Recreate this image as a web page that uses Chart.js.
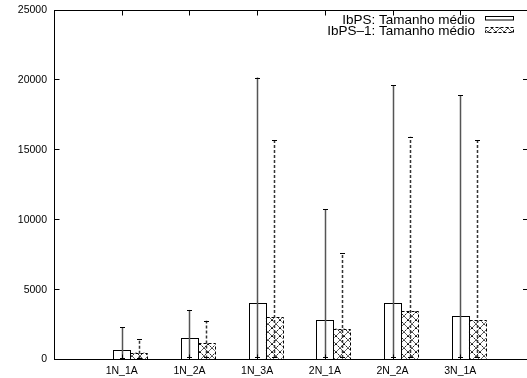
<!DOCTYPE html>
<html>
<head>
<meta charset="utf-8">
<script src="https://cdn.jsdelivr.net/npm/chart.js@4/dist/chart.umd.min.js"></script>
<style>
html,body{margin:0;padding:0;overflow:hidden;background:#fff;}
#wrap{position:relative;width:527px;height:378px;overflow:hidden;}
#c{position:absolute;left:0;top:0;}
</style>
</head>
<body>
<div id="wrap"><canvas id="c" width="532" height="378"></canvas></div>
<script>
// ---- data ----
const categories = ['1N_1A', '1N_2A', '1N_3A', '2N_1A', '2N_2A', '3N_1A'];
const seriesLabels = ['IbPS: Tamanho médio', 'IbPS\u20131: Tamanho médio'];
const meanIbPS  = [700, 1550, 4050, 2850, 4050, 3150];
const lowIbPS   = [50, 100, 100, 100, 100, 100];
const highIbPS  = [2320, 3550, 20200, 10750, 19650, 18950];
const meanIbPS1 = [480, 1150, 3050, 2200, 3450, 2800];
const lowIbPS1  = [50, 80, 100, 100, 100, 100];
const highIbPS1 = [1480, 2780, 15750, 7600, 15950, 15700];
const yTickValues = [0, 5000, 10000, 15000, 20000, 25000];

// ---- styling / layout constants ----
const FONT = "'Liberation Sans', Arial, Helvetica, sans-serif";
const SECOND_OFFSET = 0.25;   // second bar sits 1/4 unit right of category
const TICK_LEN = 5;

const canvas = document.getElementById('c');
const ctx0 = canvas.getContext('2d');

function makeHatch(ctx) {
  const t = document.createElement('canvas');
  t.width = 8; t.height = 8;
  const g = t.getContext('2d');
  g.fillStyle = '#fff';
  g.fillRect(0, 0, 8, 8);
  g.strokeStyle = '#111';
  g.lineWidth = 1;
  g.setLineDash([2, 1]);
  g.beginPath();
  g.moveTo(0, 0); g.lineTo(8, 8);
  g.moveTo(8, 0); g.lineTo(0, 8);
  g.stroke();
  return ctx.createPattern(t, 'repeat');
}
const hatch = makeHatch(ctx0);

const errorBarsPlugin = {
  id: 'errorBars',
  afterDatasetsDraw(chart) {
    const ctx = chart.ctx;
    const ys = chart.scales.y;
    chart.data.datasets.forEach((ds, di) => {
      const meta = chart.getDatasetMeta(di);
      meta.data.forEach((el, i) => {
        const p = el.getProps(['x', 'y', 'base', 'width'], true);
        const l = Math.round(p.x - p.width / 2) + 0.5;
        const r = Math.round(p.x + p.width / 2) + 0.5;
        const t = Math.round(p.y) + 0.5;
        const b = Math.round(p.base) - 0.5;
        ctx.save();
        ctx.strokeStyle = '#000';
        ctx.lineWidth = 1;
        ctx.setLineDash(ds.outlineDash || []);
        ctx.strokeRect(l, t, r - l, b - t);
        ctx.restore();
        const x = Math.round(p.x) + 0.5;
        const yl = ys.getPixelForValue(ds.errLow[i]);
        const yh = ys.getPixelForValue(ds.errHigh[i]);
        ctx.save();
        ctx.strokeStyle = ds.errColor;
        ctx.lineWidth = 1.5;
        ctx.setLineDash(ds.errDash || []);
        ctx.beginPath();
        ctx.moveTo(x, yl); ctx.lineTo(x, yh);
        ctx.stroke();
        ctx.setLineDash([]);
        ctx.strokeStyle = '#000';
        ctx.lineWidth = 1;
        ctx.beginPath();
        ctx.moveTo(x - 2.5, Math.round(yh) + 0.5); ctx.lineTo(x + 2.5, Math.round(yh) + 0.5);
        ctx.moveTo(x - 2.5, Math.round(yl) - 0.5); ctx.lineTo(x + 2.5, Math.round(yl) - 0.5);
        ctx.stroke();
        ctx.restore();
      });
    });
  }
};

const framePlugin = {
  id: 'frame',
  afterDraw(chart) {
    const ctx = chart.ctx;
    const a = chart.chartArea;
    const xs = chart.scales.x, ys = chart.scales.y;
    ctx.save();
    ctx.strokeStyle = '#000';
    ctx.lineWidth = 1;
    const L = Math.round(a.left) + 0.5, R = Math.round(a.right);
    const T = Math.round(a.top) - 0.5, B = Math.round(a.bottom) - 0.5;
    ctx.beginPath();
    // left, top and bottom border (right border falls outside the picture)
    ctx.moveTo(L, B); ctx.lineTo(L, T);
    ctx.moveTo(L - 0.5, T); ctx.lineTo(R, T);
    ctx.moveTo(L - 0.5, B); ctx.lineTo(R, B);
    yTickValues.forEach(v => {
      const y = Math.round(ys.getPixelForValue(v)) - 0.5;
      ctx.moveTo(L, y); ctx.lineTo(L + TICK_LEN, y);
      if (v > 0 && v < 25000) { ctx.moveTo(R, y); ctx.lineTo(R - TICK_LEN, y); }
    });
    categories.forEach((c, i) => {
      const x = Math.round(xs.getPixelForValue(i + 1)) + 0.5;
      ctx.moveTo(x, T); ctx.lineTo(x, T + TICK_LEN);
      ctx.moveTo(x, B); ctx.lineTo(x, B - TICK_LEN);
    });
    ctx.stroke();
    ctx.restore();

    ctx.save();
    ctx.font = '13.5px ' + FONT;
    ctx.fillStyle = '#000';
    ctx.textAlign = 'right';
    ctx.textBaseline = 'alphabetic';
    const textRight = 475;
    const baselines = [24, 35];
    chart.data.datasets.forEach((ds, di) => {
      ctx.fillText(ds.label, textRight, baselines[di]);
    });
    ctx.strokeStyle = '#000';
    ctx.lineWidth = 1;
    ctx.fillStyle = '#fff';
    ctx.fillRect(485.5, 16.5, 28, 3.5);
    ctx.strokeRect(485.5, 16.5, 28, 3.5);
    ctx.fillStyle = hatch;
    ctx.fillRect(485.5, 27.5, 28, 5);
    ctx.setLineDash([3, 2]);
    ctx.strokeRect(485.5, 27.5, 28, 5);
    ctx.restore();
  }
};

new Chart(canvas, {
  type: 'bar',
  data: {
    datasets: [
      {
        label: seriesLabels[0],
        data: categories.map((c, i) => ({ x: i + 1, y: meanIbPS[i] })),
        backgroundColor: '#fff',
        borderWidth: 0,
        errLow: lowIbPS, errHigh: highIbPS, errColor: '#555',
        errDash: [], outlineDash: []
      },
      {
        label: seriesLabels[1],
        data: categories.map((c, i) => ({ x: i + 1 + SECOND_OFFSET, y: meanIbPS1[i] })),
        backgroundColor: hatch,
        borderWidth: 0,
        errLow: lowIbPS1, errHigh: highIbPS1, errColor: '#333',
        errDash: [3, 2], outlineDash: [3, 2]
      }
    ]
  },
  options: {
    responsive: false,
    animation: false,
    devicePixelRatio: 1,
    grouped: false,
    barPercentage: 1,
    categoryPercentage: 1,
    inflateAmount: 0,
    layout: { padding: { top: 10.5, left: 0, right: 4, bottom: 0.5 } },
    plugins: { legend: { display: false }, tooltip: { enabled: false } },
    scales: {
      x: {
        type: 'linear',
        min: 0, max: 7,
        offset: false,
        grid: { display: false, drawTicks: false, offset: false },
        border: { display: false },
        ticks: {
          stepSize: 1,
          autoSkip: false,
          maxRotation: 0,
          padding: 5,
          color: '#000',
          font: { family: FONT, size: 10.5 },
          callback: v => categories[v - 1] ?? ''
        },
        afterFit: s => { s.height = 18; s.paddingLeft = 0; s.paddingRight = 0; }
      },
      y: {
        min: 0, max: 25000,
        grid: { display: false, drawTicks: false },
        border: { display: false },
        ticks: {
          stepSize: 5000,
          padding: 7,
          color: '#000',
          font: { family: FONT, size: 10.5 },
          callback: v => String(v)
        },
        afterBuildTicks: s => { s.ticks = yTickValues.map(v => ({ value: v })); },
        afterFit: s => { s.width = 54; s.paddingTop = 0; s.paddingBottom = 0; }
      }
    }
  },
  plugins: [errorBarsPlugin, framePlugin]
});
</script>
</body>
</html>
